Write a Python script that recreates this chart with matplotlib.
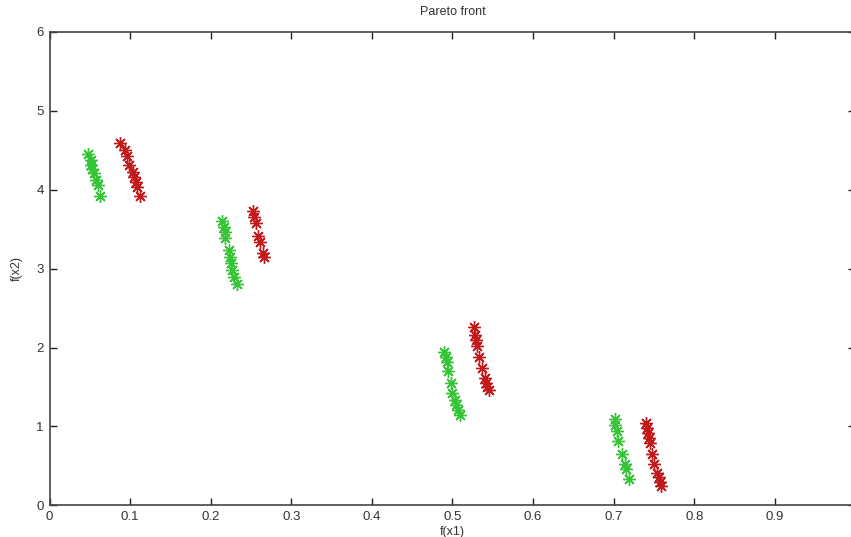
import matplotlib
matplotlib.use("Agg")
import matplotlib.pyplot as plt

# Data
green_x = [0.048, 0.051, 0.052, 0.053, 0.055, 0.058, 0.060, 0.063,
           0.2143, 0.2164, 0.2172, 0.2180, 0.2222, 0.2234, 0.2246, 0.2263, 0.2288, 0.2329,
           0.4895, 0.4916, 0.4928, 0.4944, 0.4978, 0.4998, 0.5027, 0.5047, 0.5068, 0.5089,
           0.7011, 0.7019, 0.7040, 0.7052, 0.7102, 0.7143, 0.7156, 0.7193]
green_y = [4.449, 4.376, 4.320, 4.260, 4.210, 4.130, 4.060, 3.920,
           3.603, 3.531, 3.468, 3.384, 3.236, 3.151, 3.067, 2.982, 2.897, 2.805,
           1.947, 1.883, 1.820, 1.702, 1.554, 1.427, 1.335, 1.271, 1.208, 1.145,
           1.090, 1.018, 0.946, 0.815, 0.650, 0.523, 0.456, 0.333]

red_x = [0.0873, 0.0934, 0.0963, 0.0988, 0.103, 0.105, 0.1067, 0.1087, 0.112,
         0.2522, 0.2543, 0.2564, 0.2593, 0.2614, 0.2646, 0.2667,
         0.5266, 0.5278, 0.5295, 0.5307, 0.5328, 0.5361, 0.5402, 0.5418, 0.5431, 0.5452,
         0.7399, 0.7411, 0.7423, 0.7440, 0.7453, 0.7481, 0.7506, 0.7535, 0.7556, 0.7577, 0.7589]
red_y = [4.588, 4.503, 4.427, 4.313, 4.228, 4.165, 4.101, 4.038, 3.920,
         3.734, 3.658, 3.574, 3.413, 3.341, 3.202, 3.143,
         2.264, 2.158, 2.095, 2.019, 1.876, 1.744, 1.610, 1.546, 1.496, 1.461,
         1.047, 0.976, 0.913, 0.849, 0.786, 0.650, 0.523, 0.413, 0.363, 0.299, 0.245]

x_ticks = [0, 0.1, 0.2, 0.3, 0.4, 0.5, 0.6, 0.7, 0.8, 0.9]
x_tick_labels = ["0", "0.1", "0.2", "0.3", "0.4", "0.5", "0.6", "0.7", "0.8", "0.9"]
y_ticks = [0, 1, 2, 3, 4, 5, 6]

plt.rcParams['font.family'] = ['Liberation Sans', 'DejaVu Sans']

fig = plt.figure(figsize=(8.51, 5.37), dpi=100)
ax = fig.add_axes([49.5 / 851, (537 - 505.3) / 537, 806 / 851, (505.3 - 32) / 537])

ax.plot(green_x, green_y, linestyle='none', marker=(8, 2, 0), markersize=9,
        markeredgewidth=1.0, color='#35c435')
ax.plot(red_x, red_y, linestyle='none', marker=(8, 2, 0), markersize=9,
        markeredgewidth=1.0, color='#c21a1a')

ax.set_xlim(0, 1)
ax.set_ylim(0, 6)
ax.set_xticks(x_ticks)
ax.set_xticklabels(x_tick_labels)
ax.set_yticks(y_ticks)
ax.tick_params(direction='in', length=5, width=1, top=True, right=True,
               labelsize=9.5, colors='#222222', labelcolor='#333333', pad=4)
for s in ax.spines.values():
    s.set_color('#444444')
    s.set_linewidth(1.2)

ax.set_title("Pareto front", fontsize=9, color='#333333', pad=12)
ax.set_xlabel("f(x1)", fontsize=9, color='#333333', labelpad=2)
ax.set_ylabel("f(x2)", fontsize=9, color='#333333', labelpad=10)

fig.savefig("out.png", dpi=100)
